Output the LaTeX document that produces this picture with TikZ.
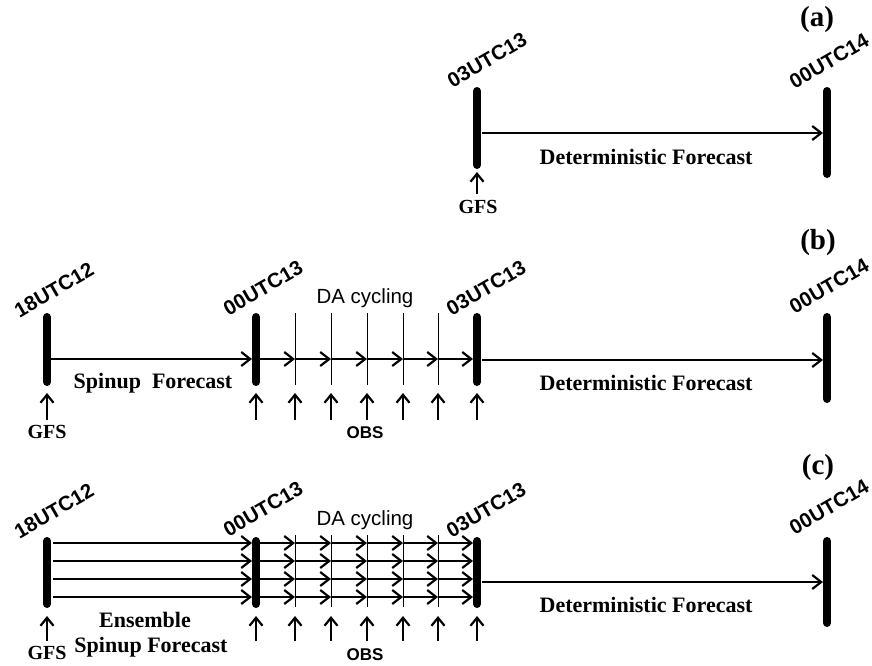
\documentclass[tikz,border=0pt]{standalone}
\usepackage{fontspec}
\setmainfont{Liberation Serif}
\setsansfont{Liberation Sans}
\usetikzlibrary{arrows.meta}
\begin{document}
\begin{tikzpicture}[x=1pt,y=-1pt,
  bar/.style={line width=8pt,line cap=round},
  tick/.style={line width=0.9pt},
  flow/.style={line width=2.2pt,-{Straight Barb[length=9pt,width=14pt,line width=2.2pt]}},
  up/.style={line width=2.2pt,-{Straight Barb[length=8pt,width=13pt,line width=2.2pt]}},
  stamp/.style={font=\sffamily\bfseries\fontsize{20.5}{20.5}\selectfont,rotate=30,inner sep=0pt},
  serif/.style={font=\bfseries\fontsize{22}{24}\selectfont,inner sep=0pt},
  src/.style={font=\bfseries\fontsize{20}{22}\selectfont,inner sep=0pt},
  sans/.style={font=\sffamily\fontsize{20.5}{22}\selectfont,inner sep=0pt},
  obs/.style={font=\sffamily\bfseries\fontsize{17}{18}\selectfont,inner sep=0pt},
  panel/.style={font=\bfseries\fontsize{29}{30}\selectfont,inner sep=0pt}]
\useasboundingbox (0,0) rectangle (872,665);

% ================= panel (a): deterministic forecast only
\node[panel] (pa) at (817,20) {(a)};
\draw[bar] (477,91) -- (477,165);
\draw[bar] (827,91) -- (827,174);
\node[stamp] (ta1) at (487,60) {03UTC13};
\node[stamp] (ta2) at (829,61) {00UTC14};
\coordinate (a1) at (482,133);
\coordinate (a2) at (823,133);
\draw[flow] (a1) -- (a2);
\node[serif] (fa) at (646,157) {Deterministic Forecast};
\node[src] (ga) at (478,207) {GFS};
\coordinate (ua) at (477,194);
\coordinate (va) at (477,172);
\draw[up] (ua) -- (va);

% ================= panel (b): spin-up + DA cycling
\node[panel] (pb) at (818,243) {(b)};
\foreach \x in {47,256,477} \draw[bar] (\x,317) -- (\x,382);
\draw[bar] (827,317) -- (827,399);
\foreach \x in {295,331,367,403,438} \draw[tick] (\x,313) -- (\x,385);
\node[stamp] (tb1) at (54,290) {18UTC12};
\node[stamp] (tb2) at (263,288) {00UTC13};
\node[stamp] (tb3) at (486,288) {03UTC13};
\node[stamp] (tb4) at (829,286) {00UTC14};
\node[sans] (db) at (365,298) {DA cycling};
% spin-up arrow and cycling segments
\foreach \n/\x in {0/51,1/260,2/295,3/331,4/367,5/403,6/438}
  \coordinate (bs\n) at (\x,359);
\foreach \n/\x in {0/252,1/295,2/331,3/367,4/403,5/438,6/473}
  \coordinate (be\n) at (\x,359);
\foreach \n in {0,...,6} \draw[flow] (bs\n) -- (be\n);
\coordinate (b1) at (482,360);
\coordinate (b2) at (823,360);
\draw[flow] (b1) -- (b2);
\node[serif] (sb) at (153,383) {Spinup\ \ Forecast};
\node[serif] (fb) at (646,383) {Deterministic Forecast};
% observation and boundary inputs
\foreach \n/\x in {0/47,1/256,2/295,3/331,4/367,5/403,6/438,7/477} {
  \coordinate (ub\n) at (\x,420);
  \coordinate (vb\n) at (\x,393);
  \draw[up] (ub\n) -- (vb\n);
}
\node[src] (gb) at (47,432) {GFS};
\node[obs] (ob) at (365,433) {OBS};

% ================= panel (c): ensemble spin-up + DA cycling
\node[panel] (pc) at (818,468) {(c)};
\foreach \x in {47,256,477} \draw[bar] (\x,541) -- (\x,604);
\draw[bar] (827,541) -- (827,623);
\foreach \x in {295,331,367,403,438} \draw[tick] (\x,535) -- (\x,607);
\node[stamp] (tc1) at (54,511) {18UTC12};
\node[stamp] (tc2) at (263,509) {00UTC13};
\node[stamp] (tc3) at (486,510) {03UTC13};
\node[stamp] (tc4) at (829,507) {00UTC14};
\node[sans] (dc) at (365,520) {DA cycling};
% four ensemble members
\foreach \m/\y in {1/543,2/561,3/579,4/597} {
  \foreach \n/\x in {0/53,1/260,2/295,3/331,4/367,5/403,6/438}
    \coordinate (cs\m\n) at (\x,\y);
  \foreach \n/\x in {0/252,1/295,2/331,3/367,4/403,5/438,6/473}
    \coordinate (ce\m\n) at (\x,\y);
  \foreach \n in {0,...,6} \draw[flow] (cs\m\n) -- (ce\m\n);
}
\coordinate (c1) at (482,582);
\coordinate (c2) at (823,582);
\draw[flow] (c1) -- (c2);
\node[serif] (ec) at (145,620) {Ensemble};
\node[serif] (sc) at (151,647) {Spinup Forecast};
\node[serif] (fc) at (646,605) {Deterministic Forecast};
\foreach \n/\x in {0/47,1/256,2/295,3/331,4/367,5/403,6/438,7/477} {
  \coordinate (uc\n) at (\x,641);
  \coordinate (vc\n) at (\x,616);
  \draw[up] (uc\n) -- (vc\n);
}
\node[src] (gc) at (47,653) {GFS};
\node[obs] (oc) at (365,655) {OBS};
\end{tikzpicture}
\end{document}
